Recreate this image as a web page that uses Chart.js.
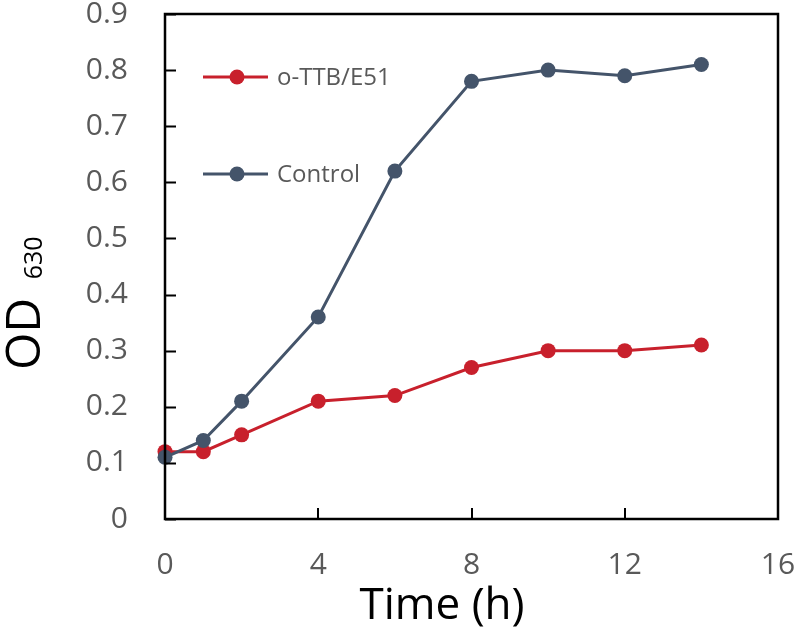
<!DOCTYPE html>
<html>
<head>
<meta charset="utf-8">
<script src="https://cdn.jsdelivr.net/npm/chart.js@4"></script>
<style>
  html, body { margin: 0; padding: 0; background: #fff; }
  #wrap { width: 800px; height: 631px; }
</style>
</head>
<body>
<div id="wrap"><canvas id="c" width="800" height="631"></canvas></div>
<script>
/* growth curve data */
const hours   = [0, 1, 2, 4, 6, 8, 10, 12, 14];
const ttbE51  = [0.12, 0.12, 0.15, 0.21, 0.22, 0.27, 0.30, 0.30, 0.31];
const control = [0.11, 0.14, 0.21, 0.36, 0.62, 0.78, 0.80, 0.79, 0.81];
const seriesNames = ['o-TTB/E51', 'Control'];
const xTicks = [0, 4, 8, 12, 16];
const yTicks = [0, 0.1, 0.2, 0.3, 0.4, 0.5, 0.6, 0.7, 0.8, 0.9];

const RED  = '#C8202C';
const SLATE = '#44546A';
const FONT = '"Open Sans", "Noto Sans", sans-serif';

const pts = arr => hours.map((h, i) => ({ x: h, y: arr[i] }));

/* box around plot, inward ticks, axis titles, legend inside plot */
const framePlugin = {
  id: 'frame',
  afterDraw(chart) {
    const { ctx, chartArea: a, scales } = chart;
    ctx.save();
    ctx.strokeStyle = '#000';
    ctx.lineWidth = 2.5;
    ctx.strokeRect(a.left, a.top, a.right - a.left, a.bottom - a.top);

    ctx.lineWidth = 2;
    ctx.beginPath();
    yTicks.forEach(v => {
      const y = Math.round(scales.y.getPixelForValue(v)) + 0.5;
      ctx.moveTo(a.left, y); ctx.lineTo(a.left + 11, y);
    });
    xTicks.forEach(v => {
      const x = Math.round(scales.x.getPixelForValue(v));
      ctx.moveTo(x, a.bottom); ctx.lineTo(x, a.bottom - 11);
    });
    ctx.stroke();

    // x title
    ctx.fillStyle = '#000';
    ctx.font = `44px ${FONT}`;
    ctx.textAlign = 'center';
    ctx.textBaseline = 'alphabetic';
    ctx.fillText('Time (h)', 442, 619);

    // y title: OD with subscript 630
    ctx.save();
    ctx.translate(40, 370);
    ctx.rotate(-Math.PI / 2);
    ctx.textAlign = 'left';
    ctx.font = `48px ${FONT}`;
    ctx.fillText('OD', 0, 0);
    const w = ctx.measureText('OD ').width;
    ctx.font = `25px ${FONT}`;
    ctx.fillText('630', w + 6, 2);
    ctx.restore();

    // legend
    const items = [
      { label: seriesNames[0], color: RED,   y: 77 },
      { label: seriesNames[1], color: SLATE, y: 174 },
    ];
    items.forEach(it => {
      ctx.strokeStyle = it.color;
      ctx.lineWidth = 3;
      ctx.beginPath();
      ctx.moveTo(203, it.y); ctx.lineTo(268, it.y);
      ctx.stroke();
      ctx.fillStyle = it.color;
      ctx.beginPath();
      ctx.arc(237, it.y, 7.5, 0, Math.PI * 2);
      ctx.fill();
      ctx.fillStyle = '#595959';
      ctx.font = `24px ${FONT}`;
      ctx.textAlign = 'left';
      ctx.textBaseline = 'middle';
      ctx.fillText(it.label, 277, it.y + 1);
    });
    ctx.restore();
  },
};

const lineSet = (label, data, color, order) => ({
  label, data, order,
  borderColor: color,
  backgroundColor: color,
  borderWidth: 3,
  pointRadius: 7.5,
  pointBackgroundColor: color,
  pointBorderWidth: 0,
  tension: 0,
  fill: false,
  clip: false,
});

new Chart(document.getElementById('c'), {
  type: 'line',
  data: {
    datasets: [
      lineSet(seriesNames[0], pts(ttbE51), RED, 1),
      lineSet(seriesNames[1], pts(control), SLATE, 0),
    ],
  },
  options: {
    responsive: false,
    animation: false,
    layout: { padding: { top: 14, right: 22, left: 0, bottom: 0 } },
    plugins: { legend: { display: false }, tooltip: { enabled: false } },
    scales: {
      x: {
        type: 'linear', min: 0, max: 16,
        afterBuildTicks: s => { s.ticks = xTicks.map(v => ({ value: v })); },
        afterFit: s => { s.height = 112; s.paddingLeft = 0; s.paddingRight = 0; },
        grid: { display: false, drawTicks: false },
        border: { display: false },
        ticks: { color: '#595959', font: { family: FONT, size: 30 }, padding: 28, maxRotation: 0 },
      },
      y: {
        min: 0, max: 0.9,
        afterBuildTicks: s => { s.ticks = yTicks.map(v => ({ value: v })); },
        afterFit: s => { s.width = 165; s.paddingTop = 0; s.paddingBottom = 0; },
        grid: { display: false, drawTicks: false },
        border: { display: false },
        ticks: {
          color: '#595959', font: { family: FONT, size: 30 }, padding: 37,
          callback: v => String(Number(v.toFixed(1))),
        },
      },
    },
  },
  plugins: [framePlugin],
});
</script>
</body>
</html>
